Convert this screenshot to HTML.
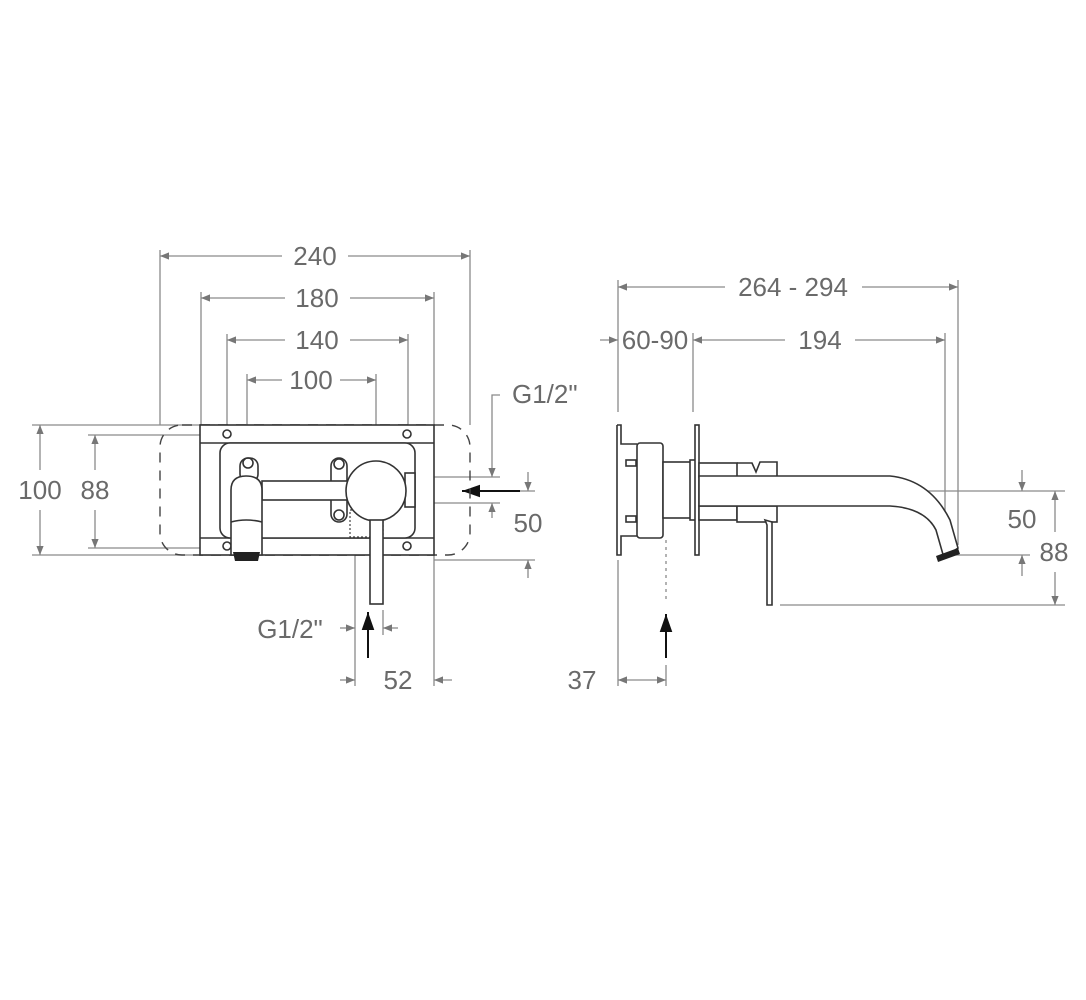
<!DOCTYPE html>
<html><head><meta charset="utf-8"><style>
html,body{margin:0;padding:0;background:#fff}
svg{display:block}
text{font-family:"Liberation Sans",Arial,sans-serif;font-size:26px;fill:#6a6a6a}
.d{stroke:#8a8a8a;stroke-width:1.3;fill:none}
.k{stroke:#333;stroke-width:1.6;fill:none}
.kf{stroke:#333;stroke-width:1.6;fill:#fff}
</style></head><body>
<svg width="1086" height="1000" viewBox="0 0 1086 1000">
<defs>
<marker id="a" viewBox="0 0 10 10" refX="10" refY="5" markerWidth="7" markerHeight="7" orient="auto-start-reverse"><path d="M0,1 L10,5 L0,9z" fill="#777"/></marker>
<marker id="b" viewBox="0 0 10 10" refX="10" refY="5" markerWidth="9" markerHeight="9" orient="auto"><path d="M0,1.5 L10,5 L0,8.5z" fill="#111"/></marker>
</defs>

<g class="d">
<line x1="160" y1="250" x2="160" y2="425"/><line x1="470" y1="250" x2="470" y2="425"/>
<line x1="160" y1="256" x2="282" y2="256" marker-start="url(#a)"/><line x1="348" y1="256" x2="470" y2="256" marker-end="url(#a)"/>
<line x1="201" y1="292" x2="201" y2="425"/><line x1="434" y1="292" x2="434" y2="425"/>
<line x1="201" y1="298" x2="285" y2="298" marker-start="url(#a)"/><line x1="350" y1="298" x2="434" y2="298" marker-end="url(#a)"/>
<line x1="227" y1="334" x2="227" y2="430"/><line x1="408" y1="334" x2="408" y2="430"/>
<line x1="227" y1="340" x2="285" y2="340" marker-start="url(#a)"/><line x1="350" y1="340" x2="408" y2="340" marker-end="url(#a)"/>
<line x1="247" y1="374" x2="247" y2="455"/><line x1="376" y1="374" x2="376" y2="491"/>
<line x1="247" y1="380" x2="282" y2="380" marker-start="url(#a)"/><line x1="340" y1="380" x2="376" y2="380" marker-end="url(#a)"/>
<line x1="32" y1="425" x2="215" y2="425"/><line x1="32" y1="555" x2="215" y2="555"/>
<line x1="88" y1="435" x2="215" y2="435"/><line x1="88" y1="548" x2="215" y2="548"/>
<line x1="40" y1="470" x2="40" y2="425" marker-end="url(#a)"/><line x1="40" y1="510" x2="40" y2="555" marker-end="url(#a)"/>
<line x1="95" y1="470" x2="95" y2="435" marker-end="url(#a)"/><line x1="95" y1="510" x2="95" y2="548" marker-end="url(#a)"/>
<line x1="425" y1="477" x2="500" y2="477"/><line x1="425" y1="503" x2="500" y2="503"/>
<line x1="475" y1="491" x2="535" y2="491"/>
<line x1="434" y1="560" x2="535" y2="560"/>
<polyline points="500,395 492,395 492,477" marker-end="url(#a)"/>
<line x1="492" y1="518" x2="492" y2="503" marker-end="url(#a)"/>
<line x1="528" y1="472" x2="528" y2="491" marker-end="url(#a)"/>
<line x1="528" y1="578" x2="528" y2="560" marker-end="url(#a)"/>
<line x1="355" y1="540" x2="355" y2="686"/><line x1="434" y1="555" x2="434" y2="686"/>
<line x1="383" y1="610" x2="383" y2="635"/>
<line x1="340" y1="628" x2="355" y2="628" marker-end="url(#a)"/><line x1="398" y1="628" x2="383" y2="628" marker-end="url(#a)"/>
<line x1="340" y1="680" x2="355" y2="680" marker-end="url(#a)"/><line x1="452" y1="680" x2="434" y2="680" marker-end="url(#a)"/>
</g>
<line x1="520" y1="491" x2="462" y2="491" stroke="#111" stroke-width="2" marker-end="url(#b)"/>
<line x1="368" y1="658" x2="368" y2="612" stroke="#111" stroke-width="2" marker-end="url(#b)"/>

<text x="315" y="265" text-anchor="middle">240</text>
<text x="317" y="307" text-anchor="middle">180</text>
<text x="317" y="349" text-anchor="middle">140</text>
<text x="311" y="389" text-anchor="middle">100</text>
<text x="40" y="499" text-anchor="middle">100</text>
<text x="95" y="499" text-anchor="middle">88</text>
<text x="512" y="403">G1/2"</text>
<text x="528" y="532" text-anchor="middle">50</text>
<text x="290" y="638" text-anchor="middle">G1/2"</text>
<text x="398" y="689" text-anchor="middle">52</text>

<rect x="160" y="425" width="310" height="130" rx="22" fill="none" stroke="#444" stroke-width="1.4" stroke-dasharray="10,8"/>
<rect x="200" y="425" width="234" height="130" class="kf"/>
<line x1="200" y1="443" x2="434" y2="443" class="k"/>
<line x1="200" y1="538" x2="434" y2="538" class="k"/>
<rect x="220" y="443" width="195" height="95" rx="10" class="kf"/>
<g class="k"><circle cx="227" cy="434" r="4"/><circle cx="407" cy="434" r="4"/><circle cx="227" cy="546" r="4"/><circle cx="407" cy="546" r="4"/></g>
<rect x="240" y="458" width="18" height="24" rx="8" class="kf"/><circle cx="248" cy="463" r="5" class="k"/>
<rect x="331" y="458" width="16" height="64" rx="8" class="kf"/>
<circle cx="339" cy="464" r="5" class="k"/><circle cx="339" cy="515" r="5" class="k"/>
<rect x="262" y="481" width="86" height="19" class="kf"/>
<path d="M231,555 L231,490 Q231,476 246,476 Q262,476 262,490 L262,555z" class="kf"/>
<path d="M231,522 Q246,518 262,522" class="k"/>
<path d="M233,552 L260,552 L258,561 L235,561z" fill="#222"/>
<rect x="405" y="473" width="10" height="34" class="kf"/>
<rect x="350" y="510" width="33" height="27" fill="none" stroke="#444" stroke-width="1.2" stroke-dasharray="2,2"/>
<circle cx="376" cy="491" r="30" class="kf"/>
<rect x="370" y="520" width="13" height="84" class="kf"/>

<g class="d">
<line x1="618" y1="280" x2="618" y2="412"/><line x1="958" y1="280" x2="958" y2="545"/>
<line x1="618" y1="287" x2="725" y2="287" marker-start="url(#a)"/><line x1="862" y1="287" x2="958" y2="287" marker-end="url(#a)"/>
<line x1="693" y1="333" x2="693" y2="412"/><line x1="945" y1="333" x2="945" y2="540"/>
<line x1="600" y1="340" x2="618" y2="340" marker-end="url(#a)"/>
<line x1="693" y1="340" x2="785" y2="340" marker-start="url(#a)"/><line x1="855" y1="340" x2="945" y2="340" marker-end="url(#a)"/>
<line x1="710" y1="491" x2="1065" y2="491"/>
<line x1="950" y1="555" x2="1030" y2="555"/>
<line x1="780" y1="605" x2="1065" y2="605"/>
<line x1="1022" y1="470" x2="1022" y2="491" marker-end="url(#a)"/>
<line x1="1022" y1="576" x2="1022" y2="555" marker-end="url(#a)"/>
<line x1="1055" y1="532" x2="1055" y2="491" marker-end="url(#a)"/>
<line x1="1055" y1="572" x2="1055" y2="605" marker-end="url(#a)"/>
<line x1="618" y1="560" x2="618" y2="686"/>
<line x1="666" y1="540" x2="666" y2="600" stroke-dasharray="3,4"/>
<line x1="666" y1="665" x2="666" y2="686"/>
<line x1="618" y1="680" x2="666" y2="680" marker-start="url(#a)" marker-end="url(#a)"/>
</g>
<line x1="666" y1="658" x2="666" y2="614" stroke="#111" stroke-width="2" marker-end="url(#b)"/>
<text x="793" y="296" text-anchor="middle">264 - 294</text>
<text x="655" y="349" text-anchor="middle">60-90</text>
<text x="820" y="349" text-anchor="middle">194</text>
<text x="1022" y="528" text-anchor="middle">50</text>
<text x="1054" y="561" text-anchor="middle">88</text>
<text x="582" y="689" text-anchor="middle">37</text>

<path d="M617,425 L621,425 L621,444 L637,444 M617,425 L617,555 L621,555 L621,536 L637,536" class="k"/>
<rect x="637" y="443" width="26" height="95" rx="3" class="kf"/>
<rect x="626" y="460" width="10" height="6" class="kf"/><rect x="626" y="516" width="10" height="6" class="kf"/>
<rect x="663" y="462" width="32" height="56" class="kf"/>
<rect x="690" y="460" width="6" height="60" class="kf"/>
<rect x="695" y="425" width="4" height="130" class="kf"/>
<rect x="699" y="463" width="38" height="14" class="kf"/>
<rect x="699" y="506" width="38" height="14" class="kf"/>
<path d="M737,463 L752,463 L756,472 L760,462 L777,462 L777,476" class="kf"/>
<rect x="737" y="506" width="40" height="16" class="kf"/>
<path d="M699,476 L890,476 Q930,480 950,520 L958,548 L944,558 L936,530 Q925,508 890,506 L699,506z" class="kf"/>
<path d="M936,556 L958,548 L960,554 L938,562z" fill="#222"/>
<path d="M765,520 L772,522 L772,605 L767,605 L767,525z" class="kf"/>
</svg>
</body></html>
